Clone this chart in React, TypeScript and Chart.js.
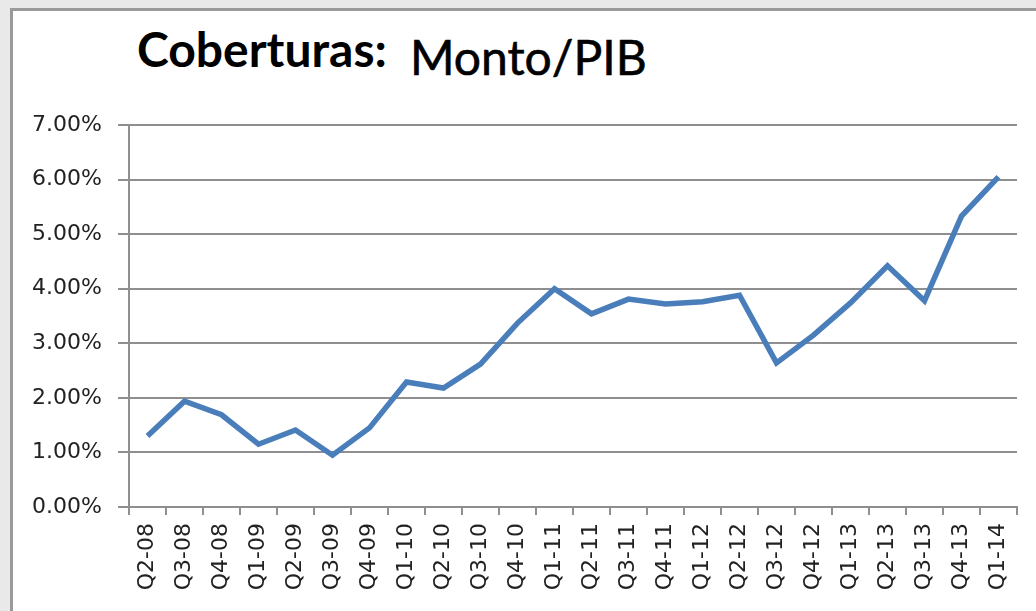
import React, { useEffect, useRef } from "react";
import { Chart, registerables } from "chart.js";

Chart.register(...registerables);

const categories: string[] = [
  "Q2-08", "Q3-08", "Q4-08", "Q1-09", "Q2-09", "Q3-09", "Q4-09",
  "Q1-10", "Q2-10", "Q3-10", "Q4-10", "Q1-11", "Q2-11", "Q3-11",
  "Q4-11", "Q1-12", "Q2-12", "Q3-12", "Q4-12", "Q1-13", "Q2-13",
  "Q3-13", "Q4-13", "Q1-14",
];

// Monto/PIB in percent
const montoPib: number[] = [
  1.30, 1.94, 1.69, 1.15, 1.41, 0.95, 1.45,
  2.29, 2.18, 2.62, 3.37, 4.00, 3.54, 3.81,
  3.72, 3.76, 3.88, 2.64, 3.15, 3.74, 4.42,
  3.78, 5.33, 6.05,
];

const titleBold = "Coberturas:";
const titleRest = "Monto/PIB";
const yMin = 0;
const yMax = 7;
const yStep = 1;

export default function App() {
  const ref = useRef<HTMLCanvasElement | null>(null);

  useEffect(() => {
    document.body.style.margin = "0";
    const canvas = ref.current;
    if (!canvas) return;
    const chart = new Chart(canvas, {
      type: "line",
      data: {
        labels: categories,
        datasets: [
          {
            label: titleRest,
            data: montoPib,
            borderColor: "#4A7EBB",
            borderWidth: 5.5,
            pointRadius: 0,
            pointHoverRadius: 0,
            tension: 0,
            fill: false,
            borderJoinStyle: "miter",
          },
        ],
      },
      options: {
        responsive: false,
        animation: false,
        layout: { padding: { left: 0, right: 19, top: 125, bottom: 0 } },
        plugins: {
          legend: { display: false },
          title: { display: false },
          tooltip: { enabled: false },
        },
        scales: {
          x: {
            offset: true,
            grid: {
              offset: true,
              drawOnChartArea: false,
              drawTicks: true,
              tickLength: 8,
              color: "#8f8f8f",
              lineWidth: 2,
            },
            border: { color: "#8f8f8f", width: 2 },
            ticks: {
              autoSkip: false,
              maxRotation: 90,
              minRotation: 90,
              padding: 8,
              color: "#222222",
              font: { family: "DejaVu Sans", size: 22 },
            },
            afterFit: (s: any) => {
              s.height = 104;
            },
          },
          y: {
            min: yMin,
            max: yMax,
            ticks: {
              stepSize: yStep,
              padding: 16,
              color: "#222222",
              font: { family: "DejaVu Sans", size: 22 },
              callback: (v: any) => Number(v).toFixed(2) + "%",
            },
            grid: {
              color: "#8f8f8f",
              lineWidth: 2,
              tickLength: 11,
            },
            border: { color: "#8f8f8f", width: 2 },
            afterFit: (s: any) => {
              s.width = 129;
            },
          },
        },
      },
    });
    return () => chart.destroy();
  }, []);

  return (
    <div
      style={{
        position: "relative",
        width: 1036,
        height: 611,
        overflow: "hidden",
        background: "#e9e9e9",
      }}
    >
      <div
        style={{
          position: "absolute",
          left: 10,
          top: 8,
          width: 1036,
          height: 611,
          background: "#ffffff",
          borderLeft: "3px solid #9a9a9a",
          borderTop: "3px solid #9a9a9a",
        }}
      />
      <div
        style={{
          position: "absolute",
          left: 137,
          top: 16,
          fontFamily: "Lato, 'Open Sans', sans-serif",
          fontWeight: 700,
          fontSize: 48,
          lineHeight: "66px",
          color: "#000",
          whiteSpace: "nowrap",
        }}
      >
        {titleBold}
      </div>
      <div
        style={{
          position: "absolute",
          left: 410,
          top: 24,
          fontFamily: "Lato, 'Open Sans', sans-serif",
          fontWeight: 400,
          fontSize: 48,
          lineHeight: "66px",
          color: "#000",
          whiteSpace: "nowrap",
          WebkitTextStroke: "0.6px #000",
        }}
      >
        {titleRest}
      </div>
      <canvas
        ref={ref}
        width={1036}
        height={611}
        style={{ position: "absolute", left: 0, top: 0, width: 1036, height: 611 }}
      />
    </div>
  );
}
